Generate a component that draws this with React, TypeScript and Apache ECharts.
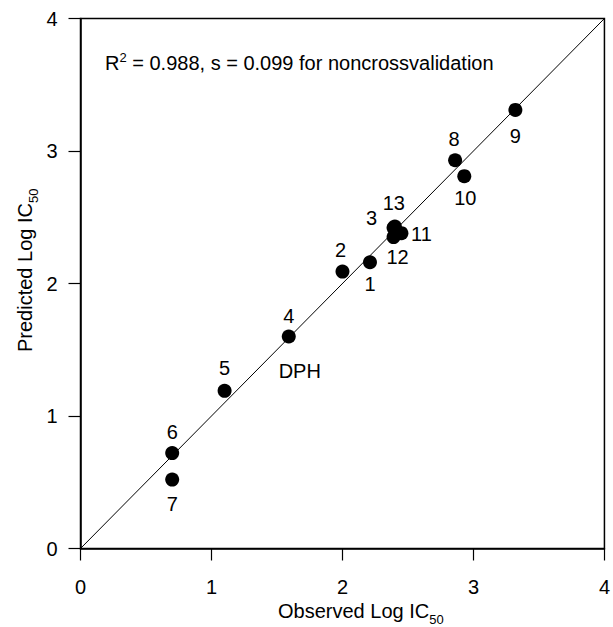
import React, { useEffect, useRef } from "react";
import * as echarts from "echarts";

// ---- data ----
const compoundIds = ["1", "2", "3", "4", "5", "6", "7", "8", "9", "10", "11", "12", "13"];
const observedLogIC50 = [2.21, 2.0, 2.39, 1.59, 1.1, 0.7, 0.7, 2.86, 3.32, 2.93, 2.45, 2.39, 2.4];
const predictedLogIC50 = [2.16, 2.09, 2.42, 1.6, 1.19, 0.72, 0.52, 2.93, 3.31, 2.81, 2.38, 2.35, 2.43];
const referenceName = "DPH";
const referenceIndex = 3; // DPH shares compound 4's point
const identityLine = [
  [0, 0],
  [4, 4],
];
const axisMin = 0;
const axisMax = 4;
const axisInterval = 1;
const statsText = { r2: "0.988", s: "0.099", note: "for noncrossvalidation" };

// ---- label placement (styling only) ----
const labelOffsets: number[][] = [
  [0, 22],
  [-2, -22],
  [-22, -10],
  [0, -21],
  [0, -23],
  [0, -21],
  [0, 24],
  [-1, -21],
  [0, 26],
  [1, 22],
  [20, 1],
  [4, 20],
  [-1, -24],
];

const FONT = "'Liberation Sans', Arial, Helvetica, sans-serif";

const subRich = {
  a: { fontSize: 20, fontFamily: FONT, fill: "#000", lineHeight: 20, verticalAlign: "top" },
  sub: { fontSize: 13, fontFamily: FONT, fill: "#000", lineHeight: 25, verticalAlign: "bottom" },
};

export default function App() {
  const ref = useRef<HTMLDivElement>(null);

  useEffect(() => {
    if (!ref.current) return;
    const chart = echarts.init(ref.current, null, { renderer: "svg" });

    const points = compoundIds.map((id, i) => ({
      name: id,
      value: [observedLogIC50[i], predictedLogIC50[i]],
      label: { offset: labelOffsets[i] },
    }));

    const axisCommon = {
      type: "value",
      min: axisMin,
      max: axisMax,
      interval: axisInterval,
      splitLine: { show: false },
      axisLine: { show: true, onZero: false, lineStyle: { color: "#000", width: 1.5 } },
      axisTick: { show: true, length: 12, lineStyle: { color: "#000", width: 1.2 } },
    };

    const labelStyle = {
      show: true,
      position: "inside",
      formatter: "{b}",
      color: "#000",
      opacity: 1,
      fontSize: 20,
      fontFamily: FONT,
    };

    chart.setOption({
      animation: false,
      backgroundColor: "#fff",
      textStyle: { fontFamily: FONT },
      grid: {
        left: 80.5,
        right: 4.5,
        top: 18.5,
        bottom: 78.5,
        show: true,
        borderColor: "#000",
        borderWidth: 1.5,
        backgroundColor: "transparent",
      },
      xAxis: {
        ...axisCommon,
        axisLabel: { color: "#000", fontSize: 20, fontFamily: FONT, margin: 28 },
      },
      yAxis: {
        ...axisCommon,
        axisLabel: { color: "#000", fontSize: 20, fontFamily: FONT, margin: 23 },
      },
      series: [
        {
          type: "line",
          data: identityLine,
          symbol: "none",
          silent: true,
          lineStyle: { color: "#000", width: 1 },
          z: 1,
        },
        {
          type: "scatter",
          data: points,
          symbolSize: 14,
          itemStyle: { color: "#000", opacity: 1 },
          label: labelStyle,
          z: 3,
        },
        {
          type: "scatter",
          data: [
            {
              name: referenceName,
              value: [observedLogIC50[referenceIndex], predictedLogIC50[referenceIndex]],
            },
          ],
          symbolSize: 1,
          itemStyle: { color: "rgba(0,0,0,0)", opacity: 1 },
          label: { ...labelStyle, offset: [11, 34] },
          z: 3,
        },
      ],
      graphic: [
        {
          type: "text",
          x: 105,
          y: 62,
          style: {
            text: `{a|R}{sup|2}{a| = ${statsText.r2}, s = ${statsText.s} ${statsText.note}}`,
            textAlign: "left",
            textVerticalAlign: "middle",
            rich: {
              a: { fontSize: 20, fontFamily: FONT, fill: "#000", lineHeight: 22, verticalAlign: "bottom" },
              sup: { fontSize: 13, fontFamily: FONT, fill: "#000", lineHeight: 13, verticalAlign: "top" },
            },
          },
        },
        {
          type: "text",
          x: 278,
          y: 613,
          style: {
            text: "{a|Observed Log IC}{sub|50}",
            textAlign: "left",
            textVerticalAlign: "middle",
            rich: subRich,
          },
        },
        {
          type: "text",
          x: 27,
          y: 352,
          rotation: Math.PI / 2,
          style: {
            text: "{a|Predicted Log IC}{sub|50}",
            textAlign: "left",
            textVerticalAlign: "middle",
            rich: subRich,
          },
        },
      ],
    });

    return () => chart.dispose();
  }, []);

  return (
    <div
      ref={ref}
      style={{ position: "fixed", left: 0, top: 0, width: 613, height: 627, background: "#fff" }}
    />
  );
}
